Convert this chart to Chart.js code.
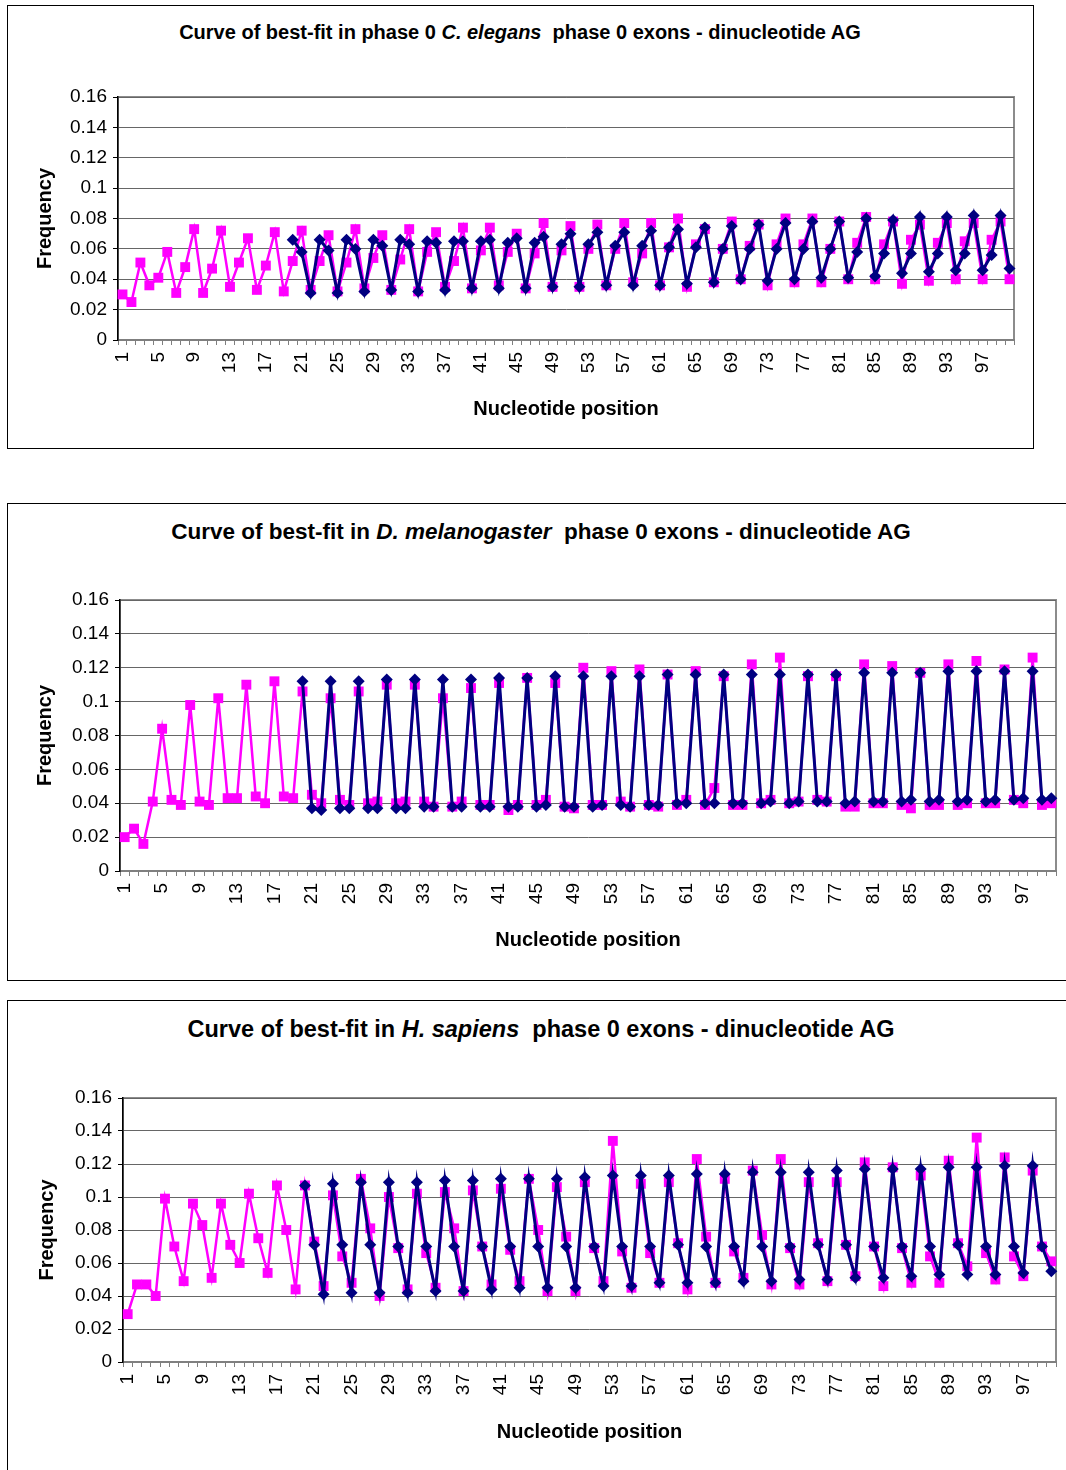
<!DOCTYPE html>
<html>
<head>
<meta charset="utf-8">
<script src="https://cdn.jsdelivr.net/npm/chart.js@4.4.1/dist/chart.umd.min.js"></script>
<style>
  body { margin: 0; background: #fff; width: 1066px; height: 1470px; position: relative; overflow: hidden; font-family: "Liberation Sans", Arial, sans-serif; }
  .box { position: absolute; border: 1px solid #000; box-sizing: border-box; }
  .title { position: absolute; font-weight: bold; text-align: center; white-space: nowrap; color: #000; line-height: 1; }
  canvas { position: absolute; }
</style>
</head>
<body>

<div class="box" style="left:7px;top:5px;width:1027px;height:444px"></div>
<div class="box" style="left:7px;top:503px;width:1070px;height:478px"></div>
<div class="box" style="left:7px;top:1000px;width:1070px;height:480px"></div>

<div class="title" id="t1" style="left:120px;width:800px;top:22px;font-size:20px">Curve of best-fit in phase 0 <i>C. elegans</i>&nbsp; phase 0 exons - dinucleotide AG</div>
<div class="title" id="t2" style="left:141px;width:800px;top:521px;font-size:22.5px">Curve of best-fit in <i>D. melanogaster</i>&nbsp; phase 0 exons - dinucleotide AG</div>
<div class="title" id="t3" style="left:141px;width:800px;top:1018px;font-size:23.5px">Curve of best-fit in <i>H. sapiens</i>&nbsp; phase 0 exons - dinucleotide AG</div>

<canvas id="c1" width="1027" height="444" style="left:7px;top:5px"></canvas>
<canvas id="c2" width="1059" height="478" style="left:7px;top:503px"></canvas>
<canvas id="c3" width="1059" height="470" style="left:7px;top:1000px"></canvas>

<script>
// nucleotide positions
const positions = [1,2,3,4,5,6,7,8,9,10,11,12,13,14,15,16,17,18,19,20,
  21,22,23,24,25,26,27,28,29,30,31,32,33,34,35,36,37,38,39,40,
  41,42,43,44,45,46,47,48,49,50,51,52,53,54,55,56,57,58,59,60,
  61,62,63,64,65,66,67,68,69,70,71,72,73,74,75,76,77,78,79,80,
  81,82,83,84,85,86,87,88,89,90,91,92,93,94,95,96,97,98,99,100];

const yTicks = [0, 0.02, 0.04, 0.06, 0.08, 0.1, 0.12, 0.14, 0.16];

// C. elegans - observed (pink) and best-fit (navy)
const elegansObs = [0.030,0.025,0.051,0.036,0.041,0.058,0.031,0.048,0.073,0.031,
  0.047,0.072,0.035,0.051,0.067,0.033,0.049,0.071,0.032,0.052,
  0.072,0.033,0.052,0.069,0.032,0.051,0.073,0.034,0.054,0.069,
  0.033,0.053,0.073,0.032,0.058,0.071,0.035,0.052,0.074,0.034,
  0.059,0.074,0.036,0.058,0.070,0.034,0.057,0.077,0.035,0.059,
  0.075,0.035,0.060,0.076,0.036,0.060,0.077,0.038,0.057,0.077,
  0.036,0.061,0.080,0.035,0.063,0.073,0.038,0.060,0.078,0.040,
  0.062,0.076,0.036,0.063,0.080,0.038,0.063,0.080,0.038,0.060,
  0.078,0.040,0.064,0.081,0.040,0.063,0.078,0.037,0.066,0.076,
  0.039,0.064,0.077,0.040,0.065,0.077,0.040,0.066,0.078,0.040];
const elegansFit = [null,null,null,null,null,null,null,null,null,null,
  null,null,null,null,null,null,null,null,null,0.066,
  0.058,0.031,0.066,0.059,0.031,0.066,0.060,0.032,0.066,0.062,
  0.033,0.066,0.063,0.032,0.065,0.064,0.033,0.065,0.065,0.034,
  0.065,0.066,0.034,0.064,0.067,0.034,0.064,0.068,0.035,0.063,
  0.070,0.035,0.063,0.071,0.036,0.062,0.071,0.036,0.062,0.072,
  0.036,0.061,0.073,0.037,0.061,0.074,0.038,0.060,0.075,0.040,
  0.060,0.076,0.039,0.060,0.077,0.040,0.060,0.078,0.041,0.060,
  0.078,0.041,0.058,0.080,0.042,0.057,0.079,0.044,0.057,0.081,
  0.045,0.057,0.081,0.046,0.057,0.082,0.046,0.056,0.082,0.047];

// D. melanogaster
const melanoObs = [0.020,0.025,0.016,0.041,0.084,0.042,0.039,0.098,0.041,0.039,
  0.102,0.043,0.043,0.110,0.044,0.040,0.112,0.044,0.043,0.106,
  0.045,0.040,0.102,0.042,0.039,0.106,0.040,0.041,0.110,0.040,
  0.041,0.110,0.041,0.038,0.102,0.038,0.041,0.108,0.039,0.039,
  0.111,0.036,0.039,0.114,0.039,0.042,0.111,0.038,0.037,0.120,
  0.039,0.039,0.118,0.041,0.038,0.119,0.039,0.038,0.116,0.039,
  0.042,0.118,0.039,0.049,0.115,0.039,0.039,0.122,0.040,0.042,
  0.126,0.040,0.041,0.115,0.042,0.041,0.115,0.038,0.038,0.122,
  0.040,0.040,0.121,0.039,0.037,0.117,0.039,0.039,0.122,0.039,
  0.040,0.124,0.040,0.040,0.119,0.042,0.040,0.126,0.039,0.040];
const melanoFit = [null,null,null,null,null,null,null,null,null,null,
  null,null,null,null,null,null,null,null,null,0.112,
  0.037,0.036,0.112,0.037,0.037,0.112,0.037,0.037,0.113,0.037,
  0.037,0.113,0.038,0.038,0.113,0.038,0.038,0.113,0.038,0.038,
  0.114,0.038,0.038,0.114,0.038,0.039,0.115,0.038,0.038,0.115,
  0.038,0.039,0.115,0.039,0.038,0.115,0.039,0.039,0.116,0.040,
  0.040,0.116,0.040,0.040,0.116,0.040,0.040,0.116,0.040,0.041,
  0.116,0.040,0.041,0.116,0.041,0.041,0.116,0.040,0.041,0.117,
  0.041,0.041,0.117,0.041,0.042,0.117,0.041,0.042,0.118,0.041,
  0.042,0.118,0.041,0.042,0.118,0.042,0.043,0.118,0.042,0.043];

// H. sapiens
const sapiensObs = [0.029,0.047,0.047,0.040,0.099,0.070,0.049,0.096,0.083,0.051,
  0.096,0.071,0.060,0.102,0.075,0.054,0.107,0.080,0.044,0.107,
  0.073,0.046,0.101,0.064,0.048,0.111,0.081,0.040,0.100,0.069,
  0.044,0.102,0.066,0.045,0.103,0.081,0.043,0.104,0.070,0.047,
  0.105,0.068,0.049,0.111,0.080,0.043,0.106,0.076,0.043,0.109,
  0.069,0.049,0.134,0.067,0.045,0.108,0.066,0.048,0.109,0.072,
  0.044,0.123,0.076,0.048,0.111,0.067,0.051,0.116,0.077,0.047,
  0.123,0.069,0.047,0.109,0.072,0.049,0.109,0.071,0.052,0.121,
  0.070,0.046,0.118,0.069,0.048,0.113,0.064,0.048,0.122,0.072,
  0.058,0.136,0.066,0.050,0.124,0.064,0.052,0.116,0.070,0.061];
const sapiensFit = [null,null,null,null,null,null,null,null,null,null,
  null,null,null,null,null,null,null,null,null,0.107,
  0.071,0.041,0.108,0.071,0.042,0.109,0.071,0.042,0.109,0.070,
  0.042,0.109,0.070,0.043,0.110,0.070,0.043,0.110,0.070,0.044,
  0.111,0.070,0.045,0.111,0.070,0.045,0.111,0.070,0.045,0.112,
  0.070,0.046,0.113,0.070,0.046,0.113,0.070,0.048,0.113,0.071,
  0.048,0.114,0.070,0.048,0.114,0.070,0.049,0.115,0.070,0.049,
  0.115,0.070,0.050,0.115,0.071,0.050,0.116,0.071,0.051,0.117,
  0.070,0.051,0.117,0.070,0.052,0.117,0.070,0.053,0.118,0.071,
  0.053,0.118,0.070,0.053,0.119,0.070,0.054,0.119,0.070,0.055];

const FONT = '"Liberation Sans", Arial, sans-serif';

// grey frame round the plot area, drawn under the axes
const plotFrame = {
  id: 'plotFrame',
  beforeDraw(chart) {
    const a = chart.chartArea;
    const c = chart.ctx;
    c.save();
    c.strokeStyle = '#8c8c8c';
    c.lineWidth = 2;
    c.strokeRect(a.left, a.top, a.right - a.left, a.bottom - a.top);
    c.restore();
  }
};

function makeChart(id, obs, fit, lay) {
  const ctx = document.getElementById(id).getContext('2d');
  return new Chart(ctx, {
    type: 'line',
    data: {
      labels: positions,
      datasets: [{
        label: 'observed',
        data: obs,
        borderColor: '#ff00ff',
        backgroundColor: '#ff00ff',
        borderWidth: 2.5,
        pointStyle: 'rect',
        pointRadius: 7,
        pointBackgroundColor: '#ff00ff',
        pointBorderColor: '#ff00ff',
        pointBorderWidth: 0,
        order: 2
      }, {
        label: 'best-fit',
        data: fit,
        borderColor: '#000080',
        backgroundColor: '#000080',
        borderWidth: 3,
        pointStyle: 'rectRot',
        pointRadius: 6,
        pointBackgroundColor: '#000080',
        pointBorderColor: '#000080',
        pointBorderWidth: 0,
        order: 1
      }]
    },
    options: {
      responsive: false,
      animation: false,
      layout: { padding: { left: 0, top: lay.top, right: lay.right, bottom: 0 } },
      plugins: { legend: { display: false }, tooltip: { enabled: false }, title: { display: false } },
      scales: {
        x: {
          offset: true,
          grid: { drawOnChartArea: false, drawTicks: true, tickLength: 5, tickColor: '#7f7f7f', offset: true },
          border: { color: '#7f7f7f', width: 2 },
          ticks: {
            autoSkip: false,
            minRotation: 90,
            maxRotation: 90,
            padding: 7,
            color: '#000',
            font: { family: FONT, size: 19 },
            callback: function (v, i) { return i % 4 === 0 ? String(positions[i]) : ''; }
          },
          title: {
            display: true,
            text: 'Nucleotide position',
            color: '#000',
            font: { family: FONT, size: 20, weight: 'bold' },
            padding: { top: 0, bottom: lay.xTitlePad }
          },
          afterFit: function (s) {
            s.height = lay.xHeight;
            s.paddingLeft = 0;
            s.paddingRight = 0;
          }
        },
        y: {
          min: 0,
          max: 0.16,
          afterBuildTicks: function (s) { s.ticks = yTicks.map(v => ({ value: v })); },
          grid: { color: '#666', lineWidth: 1, drawTicks: true, tickLength: 5, tickColor: '#000' },
          border: { color: '#000', width: 1.5 },
          ticks: {
            padding: 6,
            color: '#000',
            font: { family: FONT, size: 19 },
            callback: function (v) { return String(+v.toFixed(2)); }
          },
          title: {
            display: true,
            text: 'Frequency',
            color: '#000',
            font: { family: FONT, size: 20, weight: 'bold' },
            padding: { top: lay.yTitlePad, bottom: 0 }
          },
          afterFit: function (s) { s.width = lay.yWidth; }
        }
      }
    },
    plugins: [plotFrame]
  });
}

makeChart('c1', elegansObs, elegansFit, { top: 92, right: 20, xHeight: 109, yWidth: 111, xTitlePad: 28, yTitlePad: 26 });
makeChart('c2', melanoObs, melanoFit, { top: 97, right: 10, xHeight: 110, yWidth: 113, xTitlePad: 29, yTitlePad: 26 });
makeChart('c3', sapiensObs, sapiensFit, { top: 98, right: 10, xHeight: 108, yWidth: 116, xTitlePad: 26, yTitlePad: 28 });
</script>
</body>
</html>
